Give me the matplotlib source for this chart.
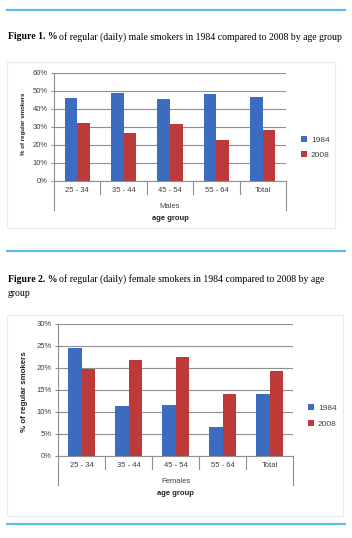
import matplotlib
matplotlib.use("Agg")
import matplotlib.pyplot as plt
import numpy as np
from matplotlib.lines import Line2D
from matplotlib.patches import Rectangle

# data
age_groups = ["25 - 34", "35 - 44", "45 - 54", "55 - 64", "Total"]
male_1984 = [45.7, 48.4, 45.1, 48.1, 46.6]
male_2008 = [31.9, 26.7, 31.5, 22.7, 28.0]
female_1984 = [24.5, 11.3, 11.6, 6.6, 14.0]
female_2008 = [19.8, 21.7, 22.4, 14.0, 19.2]
male_ticks = [0, 10, 20, 30, 40, 50, 60]
female_ticks = [0, 5, 10, 15, 20, 25, 30]

W, H = 352, 538
BLUE = "#3b6cbf"
RED = "#bd3a3a"
LINE = "#5bbde8"
TXT = "#404040"
SANS = "Liberation Sans"
SERIF = "Liberation Serif"

fig = plt.figure(figsize=(W / 100, H / 100), dpi=100)
fig.patch.set_facecolor("white")


def fx(px):
    return px / W


def fy(py):
    return 1 - py / H


def hline(y, x0=7, x1=345):
    fig.add_artist(Line2D([fx(x0), fx(x1)], [fy(y), fy(y)], color=LINE, lw=1.6))


def title(y, bold, rest):
    t = fig.text(fx(8), fy(y), bold, fontsize=7.05, family=SERIF, weight="bold", va="center")
    fig.canvas.draw()
    bb = t.get_window_extent()
    fig.text(bb.x1 / W + fx(1.5), fy(y), rest, fontsize=7.05, family=SERIF, va="center")


def chart(box, plot, v84, v08, ticks, group, ylab, leg, bw):
    # faint chart frame
    bx0, by0, bx1, by1 = box
    fig.add_artist(Rectangle((fx(bx0), fy(by1)), fx(bx1 - bx0), (by1 - by0) / H,
                             fill=False, ec="#ebebeb", lw=0.8))
    x0, y0, x1, y1 = plot
    ax = fig.add_axes([fx(x0), fy(y1), fx(x1 - x0), (y1 - y0) / H])
    x = np.arange(len(age_groups))
    ax.bar(x - bw / 2, v84, bw, color=BLUE, label="1984", zorder=3)
    ax.bar(x + bw / 2, v08, bw, color=RED, label="2008", zorder=3)
    ax.set_xlim(-0.5, len(age_groups) - 0.5)
    ax.set_ylim(ticks[0], ticks[-1])
    ax.set_yticks(ticks)
    ax.set_yticklabels([f"{t}%" for t in ticks], fontsize=5.5, family=SANS, color=TXT)
    ax.set_xticks([])
    ax.grid(axis="y", color="#8f8f8f", lw=0.8, zorder=0)
    for s in ["top", "right"]:
        ax.spines[s].set_visible(False)
    ax.spines["left"].set_color("#8f8f8f")
    ax.spines["bottom"].set_color("#8f8f8f")
    ax.tick_params(axis="y", length=2.5, color="#8f8f8f", pad=2)
    ph = y1 - y0
    tr = ax.get_xaxis_transform()
    # category separators and outer lines below the axis
    for b in np.arange(0.5, len(age_groups) - 1, 1.0):
        ax.plot([b, b], [0, -13 / ph], color="#8f8f8f", lw=0.8, transform=tr, clip_on=False)
    for b in [-0.5, len(age_groups) - 0.5]:
        ax.plot([b, b], [0, -29 / ph], color="#8f8f8f", lw=0.8, transform=tr, clip_on=False)
    for i, lab in enumerate(age_groups):
        ax.text(i, -10 / ph * 0.95, lab, transform=tr, ha="center", va="center",
                fontsize=5.5, family=SANS, color=TXT)
    ax.text(0.5, -25.5 / ph, group, transform=ax.transAxes, ha="center", va="center",
            fontsize=5.5, family=SANS, color=TXT)
    ax.text(0.5, -37.5 / ph, "age group", transform=ax.transAxes, ha="center", va="center",
            fontsize=5.5, family=SANS, weight="bold", color="#222222")
    fig.text(fx(ylab[0]), fy(ylab[1]), "% of regular smokers", rotation=90,
             ha="center", va="center", fontsize=ylab[2], family=SANS, weight="bold",
             color="#222222")
    ax.legend(loc="center left", bbox_to_anchor=((leg[0] - x0) / (x1 - x0), (y1 - leg[1]) / ph),
              frameon=False, handlelength=0.7, handleheight=0.7, handletextpad=0.5,
              labelspacing=0.9, prop={"family": SANS, "size": 6}, labelcolor=TXT,
              borderaxespad=0, borderpad=0)
    return ax


hline(10)
title(37, "Figure 1. %", "of regular (daily) male smokers in 1984 compared to 2008 by age group")
chart((7, 62, 335, 228), (54, 72.5, 286, 181), male_1984, male_2008, male_ticks,
      "Males", (23, 123.5, 4.4), (301, 147.5), 0.27)
hline(251)
title(279, "Figure 2. %", "of regular (daily) female smokers in 1984 compared to 2008 by age")
fig.text(fx(8), fy(293), "group", fontsize=7.05, family=SERIF, va="center")
chart((7, 315, 343, 516), (58, 324, 293, 455.7), female_1984, female_2008, female_ticks,
      "Females", (25, 392, 5.7), (308, 416), 0.29)
hline(524)

fig.savefig("out.png", dpi=100)
